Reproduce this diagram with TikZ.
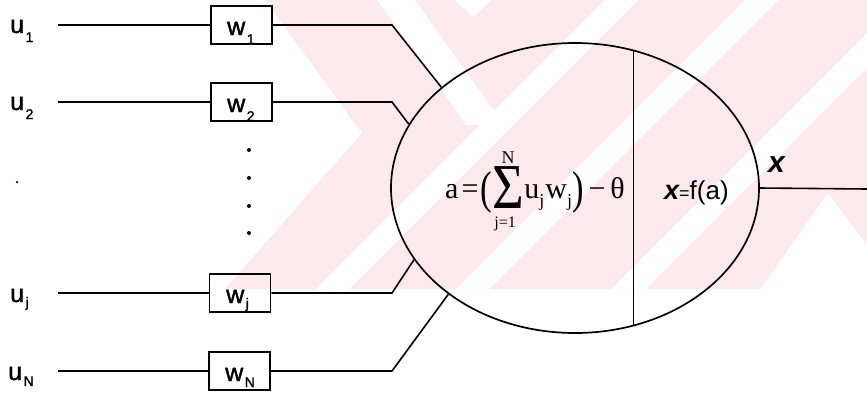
\documentclass[tikz,border=0pt]{standalone}
\usepackage{fontspec}
\usepackage{graphicx}
\setmainfont{Liberation Sans}
\newfontfamily\serifface{Liberation Serif}
\newfontfamily\heavysans{Liberation Sans}[FakeBold=1.6]
\usetikzlibrary{shapes.geometric}
\definecolor{wmpink}{RGB}{252,233,237}
% subscript set by hand: optional drop, then the text
\newcommand\subs[2][9pt]{\hspace{1.5pt}\raisebox{-#1}{\fontsize{14}{14}\selectfont #2}}
\begin{document}
\begin{tikzpicture}[x=1pt,y=-1pt,
  wire/.style={line width=1.6pt, line join=miter},
  wbox/.style={draw, line width=1.5pt, minimum width=61pt, minimum height=38pt, inner sep=0pt},
  lbl/.style={inner sep=0pt, anchor=base west, font=\heavysans\fontsize{25}{25}\selectfont},
  frm/.style={inner sep=0pt, anchor=base west, font=\serifface\fontsize{30}{30}\selectfont},
  bigdot/.style={circle, fill=black, inner sep=0pt, minimum size=4pt}]
\useasboundingbox (0,0) rectangle (867,394);

% faint background mark
\fill[wmpink] (265,0) -- (867,0) -- (867,245) -- (828,193) -- (760,289) -- (225,289) -- (362,133) -- cycle;
\fill[white] (605,0) -- (638,0) -- (349,289) -- (316,289) -- cycle;
\fill[white] (745,0) -- (778,0) -- (489,289) -- (456,289) -- cycle;
\fill[white] (867,33) -- (867,68) -- (646,289) -- (611,289) -- cycle;
\fill[white] (455,0) -- (492,0) -- (473,17) -- cycle;
\fill[white] (377,0) -- (415,0) -- (504,125) -- (466,125) -- cycle;

% neuron body with its divider
\node[ellipse, draw, line width=1.7pt, minimum width=368pt, minimum height=290pt, inner sep=0pt] (neuron) at (575,188) {};
\draw[line width=1.3pt] (neuron.67.6) -- (neuron.-67.6);

% inputs
\node[lbl] (u1) at (10,33) {u\subs{1}};
\node[lbl] (u2) at (10,110) {u\subs{2}};
\node[lbl] (uj) at (10,302) {u\subs[5pt]{j}};
\node[lbl] (uN) at (8,380) {u\subs[6pt]{N}};

\node[wbox] (b1) at (241.5,25) {};
\node[wbox] (b2) at (241.5,102) {};
\node[wbox] (bj) at (240,293) {};
\node[wbox] (bN) at (239.5,371) {};

\node[lbl] (w1) at (227,35) {w\subs{1}};
\node[lbl] (w2) at (227,112) {w\subs{2}};
\node[lbl] (wj) at (226,303) {w\subs[5pt]{j}};
\node[lbl] (wN) at (225,381) {w\subs[6pt]{N}};

\coordinate (s1) at (58,25);
\coordinate (s2) at (58,102);
\coordinate (sj) at (58,293);
\coordinate (sN) at (58,371);
\coordinate (k1) at (392,25);
\coordinate (k2) at (392,102);
\coordinate (kj) at (392,293);
\coordinate (kN) at (392,371);

\draw[wire] (s1) -- (b1.west);
\draw[wire] (s2) -- (b2.west);
\draw[wire] (sj) -- (bj.west);
\draw[wire] (sN) -- (bN.west);
\draw[wire] (b1.east) -- (k1) -- (neuron.143.5);
\draw[wire] (b2.east) -- (k2) -- (neuron.159.2);
\draw[wire] (bj.east) -- (kj) -- (neuron.204.8);
\draw[wire] (bN.east) -- (kN) -- (neuron.220.6);

% ellipsis dots
\node[circle, fill=black, inner sep=0pt, minimum size=2.5pt] (d0) at (17,182) {};
\node[bigdot] (d1) at (249,150) {};
\node[bigdot] (d2) at (249,178) {};
\node[bigdot] (d3) at (249,206) {};
\node[bigdot] (d4) at (249,233) {};

% weighted sum: left part, summation sign with its limits, right part
\node[frm] (lhs) at (445,198)
  {a\hspace{3pt}=\hspace{2pt}\raisebox{-5pt}{\fontsize{46}{46}\selectfont\scalebox{0.75}[1]{(}}};
\node[frm] (sig) at (lhs.base east)
  {\raisebox{-10pt}{\fontsize{64}{64}\selectfont\scalebox{0.85}[1]{Σ}}};
\node[frm] (rhs) at (sig.base east)
  {u\raisebox{-8pt}{\fontsize{18}{18}\selectfont j}\hspace{1pt}w\raisebox{-8pt}{\fontsize{18}{18}\selectfont j}\raisebox{-5pt}{\fontsize{46}{46}\selectfont\scalebox{0.75}[1]{)}}\hspace{5pt}−\hspace{5pt}θ};
\node[inner sep=0pt, anchor=south, font=\serifface\fontsize{18}{18}\selectfont] (sumtop) at ([yshift=2pt]sig.north) {N};
\node[inner sep=0pt, anchor=north, font=\serifface\fontsize{16}{16}\selectfont] (sumbot) at ([yshift=-9pt, xshift=-3pt]sig.south) {j=1};

% activation
\node[inner sep=0pt, anchor=base west] (act) at (664,199)
  {{\fontsize{27}{27}\selectfont\bfseries\itshape x}{\fontsize{18}{18}\selectfont =}{\fontsize{26}{26}\selectfont f(a)}};

% output
\coordinate (out) at (867,189);
\draw[wire] (neuron.0) -- (out);
\node[inner sep=0pt, anchor=base west, font=\fontsize{30}{30}\selectfont\bfseries\itshape] (xout) at (768,172) {x};
\end{tikzpicture}
\end{document}
